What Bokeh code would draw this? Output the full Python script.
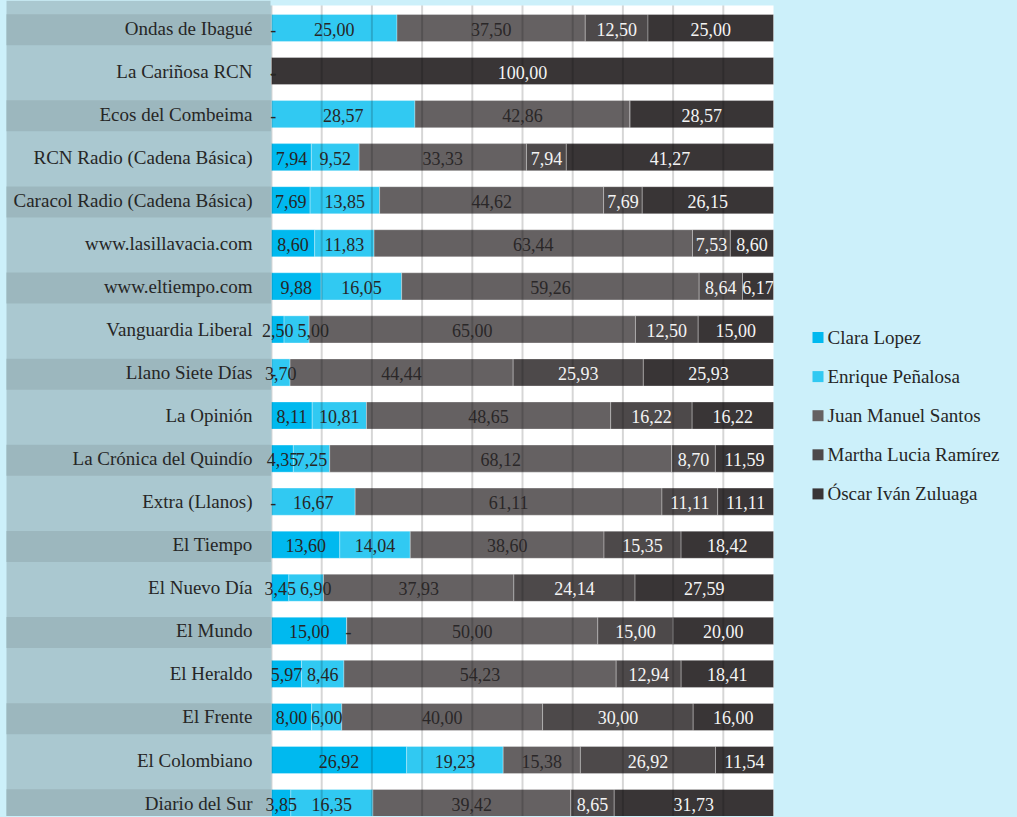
from bokeh.plotting import figure
from bokeh.models import Range1d, ColumnDataSource
from bokeh.core.properties import value
from bokeh.embed import file_html
from bokeh.resources import INLINE

# ---------------- data ----------------
medios = [
    "Ondas de Ibagué", "La Cariñosa RCN", "Ecos del Combeima",
    "RCN Radio (Cadena Básica)", "Caracol Radio (Cadena Básica)",
    "www.lasillavacia.com", "www.eltiempo.com", "Vanguardia Liberal",
    "Llano Siete Días", "La Opinión", "La Crónica del Quindío",
    "Extra (Llanos)", "El Tiempo", "El Nuevo Día", "El Mundo",
    "El Heraldo", "El Frente", "El Colombiano", "Diario del Sur",
]
series = ["Clara Lopez", "Enrique Peñalosa", "Juan Manuel Santos",
          "Martha Lucia Ramírez", "Óscar Iván Zuluaga"]
clara   = [0, 0, 0, 7.94, 7.69, 8.60, 9.88, 2.50, 0, 8.11, 4.35, 0, 13.60, 3.45, 15.00, 5.97, 8.00, 26.92, 3.85]
enrique = [25.00, 0, 28.57, 9.52, 13.85, 11.83, 16.05, 5.00, 3.70, 10.81, 7.25, 16.67, 14.04, 6.90, 0, 8.46, 6.00, 19.23, 16.35]
santos  = [37.50, 0, 42.86, 33.33, 44.62, 63.44, 59.26, 65.00, 44.44, 48.65, 68.12, 61.11, 38.60, 37.93, 50.00, 54.23, 40.00, 15.38, 39.42]
ramirez = [12.50, 0, 0, 7.94, 7.69, 7.53, 8.64, 12.50, 25.93, 16.22, 8.70, 11.11, 15.35, 24.14, 15.00, 12.94, 30.00, 26.92, 8.65]
zuluaga = [25.00, 100.00, 28.57, 41.27, 26.15, 8.60, 6.17, 15.00, 25.93, 16.22, 11.59, 11.11, 18.42, 27.59, 20.00, 18.41, 16.00, 11.54, 31.73]
grid_ticks = [0, 10, 20, 30, 40, 50, 60, 70, 80, 90]

# ---------------- style ----------------
colors = ["#00B9EF", "#31C9F2", "#656162", "#4D494A", "#393536"]
label_colors = ["#262626", "#262626", "#2a2728", "#F4F4F4", "#F4F4F4"]
BG = "#CCF0FA"
PANEL = "#AAC8D0"
BAND = "#9CB7BE"
FONT = value("Liberation Serif")

W, H = 1016, 816
X0_PX = 271.0        # px of value 0
PX_PER_UNIT = 5.02   # px per percent
ROW0_PX = 27.5       # px of first row centre
ROW_PX = 43.06       # px per row

x_start = -X0_PX / PX_PER_UNIT
x_end = (W - X0_PX) / PX_PER_UNIT
y_top = -ROW0_PX / ROW_PX
y_bottom = (H - ROW0_PX) / ROW_PX


def px_x(px):
    return (px - X0_PX) / PX_PER_UNIT


def px_y(px):
    return (px - ROW0_PX) / ROW_PX


p = figure(width=W, height=H, x_range=Range1d(x_start, x_end),
           y_range=Range1d(y_bottom, y_top), output_backend="svg",
           toolbar_location=None, x_axis_location=None, y_axis_location=None,
           min_border=0, min_border_left=0, min_border_right=0,
           min_border_top=0, min_border_bottom=0)
p.grid.visible = False
p.outline_line_color = None
p.background_fill_color = BG
p.border_fill_color = BG

n = len(medios)
idx = list(range(n))
panel_left = px_x(6)
panel_right = px_x(270)

# left label panel and alternating bands
p.quad(left=[panel_left], right=[panel_right], top=[y_top], bottom=[y_bottom],
       fill_color=PANEL, line_color=None)
even = [i for i in idx if i % 2 == 0]
p.quad(left=[panel_left] * len(even), right=[panel_right] * len(even),
       top=[i - 0.32 for i in even], bottom=[i + 0.40 for i in even],
       fill_color=BAND, line_color=None)

# white plotting area
white_top = px_y(5)
p.quad(left=[0], right=[100], top=[white_top], bottom=[y_bottom],
       fill_color="white", line_color=None)


def text_w(s):
    # approximate rendered width (px) of a value label at 18px
    return sum(4.5 if c == "," else 9.0 for c in s)


# stacked bars
vals = [clara, enrique, santos, ramirez, zuluaga]
left = [0.0] * n
seg_text = []
prev_end = [None] * n  # px end of previous label in each row
label_pos = [[] for _ in range(len(vals))]
for k, v in enumerate(vals):
    right = [l + x for l, x in zip(left, v)]
    src = ColumnDataSource(dict(y=idx, left=left, right=right))
    p.hbar(y="y", left="left", right="right", height=0.63, source=src,
           fill_color=colors[k], line_color="#ffffff", line_alpha=0.3,
           line_width=1)
    tx, ty, tt, tdx, tdy, tdt = [], [], [], [], [], []
    for i in idx:
        if v[i] > 0:
            s = f"{v[i]:.2f}".replace(".", ",")
            c_px = X0_PX + (left[i] + right[i]) / 2 * PX_PER_UNIT
            w = text_w(s)
            if prev_end[i] is not None and c_px - w / 2 < prev_end[i] - 3:
                c_px = prev_end[i] + 4 + w / 2
            prev_end[i] = c_px + w / 2
            tx.append(px_x(c_px))
            ty.append(i)
            tt.append(s)
        elif k < 3:
            tdx.append(left[i] + 0.35)
            tdy.append(i)
            tdt.append("-")
    seg_text.append((tx, ty, tt, label_colors[k]))
    if tdx:
        seg_text.append((tdx, tdy, tdt, "#262626"))
    left = right

# gridlines (drawn over bars, semi transparent)
p.segment(x0=grid_ticks, x1=grid_ticks, y0=[white_top] * len(grid_ticks),
          y1=[y_bottom] * len(grid_ticks), line_color="black", line_alpha=0.16,
          line_width=2)

for tx, ty, tt, col in seg_text:
    p.text(x=tx, y=ty, text=tt, text_font=FONT, text_font_size="18px",
           text_color=col, text_align="center", text_baseline="middle",
           y_offset=1)

# category labels
p.text(x=[px_x(252)] * n, y=idx, text=medios, text_font=FONT,
       text_font_size="19px", text_color="#262626", text_align="right",
       text_baseline="middle", y_offset=0)

# legend
leg_x = px_x(817.5)
leg_tx = px_x(827)
leg_y0 = px_y(337)
leg_step = 39.1 / ROW_PX
leg_y = [leg_y0 + j * leg_step for j in range(len(series))]
p.rect(x=[leg_x] * len(series), y=leg_y, width=11, height=11,
       width_units="screen", height_units="screen", fill_color=colors,
       line_color=None)
p.text(x=[leg_tx] * len(series), y=leg_y, text=series, text_font=FONT,
       text_font_size="19px", text_color="#262626", text_align="left",
       text_baseline="middle")

html = file_html(p, INLINE)
html = html.replace("</head>", "<style>body{background:%s;}</style></head>" % BG, 1)
open("out.html", "w").write(html)
